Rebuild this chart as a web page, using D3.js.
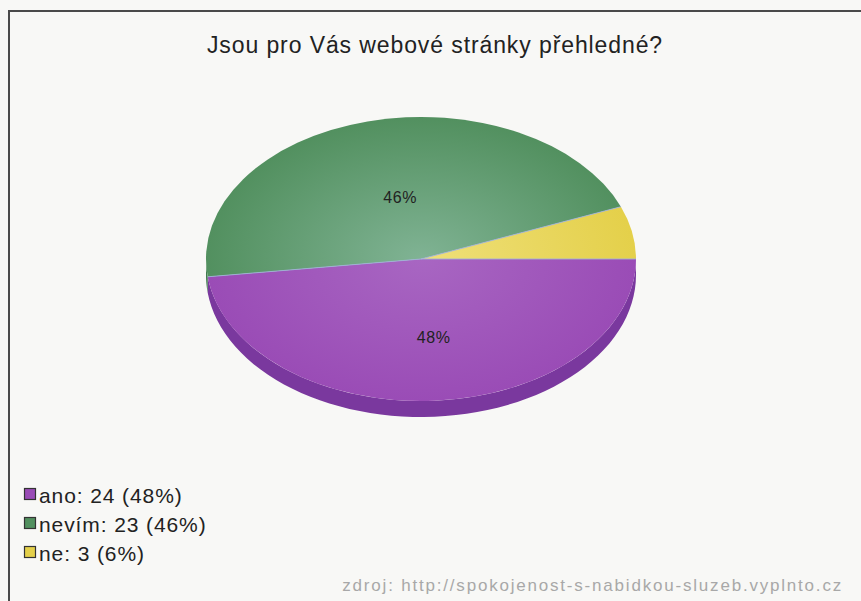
<!DOCTYPE html>
<html>
<head>
<meta charset="utf-8">
<script src="https://cdn.jsdelivr.net/npm/d3@7"></script>
<style>
  body { margin: 0; background: #f8f8f6; }
  svg { display: block; font-family: "Liberation Sans", Arial, sans-serif; }
</style>
</head>
<body>
<svg id="chart" width="861" height="601"></svg>
<script>
const categories = ["ano", "nevím", "ne"]
const counts = [24, 23, 3]
const topColors = ["#9a4cb6", "#52905f", "#e4d04a"]
const centerColors = ["#a866c2", "#80b394", "#efe07a"]
const sideColors = ["#7a389e", "#3f7a4d", "#c2ae30"]
const title = "Jsou pro Vás webové stránky přehledné?"
const source = "zdroj: http://spokojenost-s-nabidkou-sluzeb.vyplnto.cz"

const svg = d3.select("#chart")
const total = d3.sum(counts)
const pct = d3.format(".0%")

// frame
svg.append("rect").attr("width", 861).attr("height", 601).attr("fill", "#f8f8f6")
svg.append("path")
  .attr("d", "M9,601 V11 H861")
  .attr("fill", "none")
  .attr("stroke", "#4a4a4a")
  .attr("stroke-width", 2)

svg.append("text")
  .attr("x", 435).attr("y", 53)
  .attr("text-anchor", "middle")
  .attr("font-size", 23)
  .attr("letter-spacing", 0.9)
  .attr("fill", "#222")
  .text(title)

// pie geometry
const cx = 421, cy = 259, rx = 215, ry = 142, depth = 16
const data = categories.map((c, i) => ({ name: c, value: counts[i], i }))
const pie = d3.pie().value(d => d.value).sort(null)
  .startAngle(Math.PI / 2).endAngle(Math.PI / 2 + 2 * Math.PI)
const arcs = pie(data)

const ex = a => cx + rx * Math.sin(a)
const ey = a => cy - ry * Math.cos(a)

const defs = svg.append("defs")
data.forEach((d, i) => {
  const g = defs.append("radialGradient")
    .attr("id", `grad-${i}`)
    .attr("gradientUnits", "userSpaceOnUse")
    .attr("cx", 0).attr("cy", 0).attr("r", rx)
  g.append("stop").attr("offset", "0%").attr("stop-color", centerColors[i])
  g.append("stop").attr("offset", "100%").attr("stop-color", topColors[i])
})

// side walls (front half only)
const sideLine = d3.line()
const sides = svg.append("g")
arcs.forEach(a => {
  const a0 = Math.max(a.startAngle, Math.PI / 2)
  const a1 = Math.min(a.endAngle, 3 * Math.PI / 2)
  if (a0 >= a1) return
  const steps = d3.range(0, 61).map(k => a0 + (a1 - a0) * k / 60)
  const pts = steps.map(t => [ex(t), ey(t)])
    .concat(steps.slice().reverse().map(t => [ex(t), ey(t) + depth]))
  sides.append("path")
    .attr("d", sideLine(pts) + "Z")
    .attr("fill", sideColors[a.data.i])
})

// top faces
const arc = d3.arc().innerRadius(0).outerRadius(rx)
const faces = svg.append("g")
  .attr("transform", `translate(${cx},${cy}) scale(1,${ry / rx})`)
faces.selectAll("path")
  .data(arcs)
  .join("path")
  .attr("d", arc)
  .attr("fill", d => `url(#grad-${d.data.i})`)

// thin seams between slices
svg.append("g")
  .selectAll("line")
  .data(arcs)
  .join("line")
  .attr("x1", cx).attr("y1", cy)
  .attr("x2", d => ex(d.startAngle))
  .attr("y2", d => ey(d.startAngle))
  .attr("stroke", "#9fb0d8")
  .attr("stroke-width", 0.9)

// slice labels
const labelArc = d3.arc().innerRadius(rx * 0.5).outerRadius(rx * 0.5)
svg.append("g")
  .selectAll("text")
  .data(arcs.filter(d => d.value / total > 0.1))
  .join("text")
  .attr("x", d => cx + labelArc.centroid(d)[0] + 6)
  .attr("y", d => cy + labelArc.centroid(d)[1] * ry / rx + 13)
  .attr("text-anchor", "middle")
  .attr("font-size", 16)
  .attr("letter-spacing", 0.6)
  .attr("fill", "#222")
  .text(d => pct(d.value / total))

// legend
const legend = svg.append("g")
data.forEach((d, i) => {
  const y = 495 + i * 29
  legend.append("rect")
    .attr("x", 24.5).attr("y", y - 6.5)
    .attr("width", 11).attr("height", 11)
    .attr("fill", topColors[i])
    .attr("stroke", "#333").attr("stroke-width", 1.2)
  legend.append("text")
    .attr("x", 39).attr("y", y + 7.5)
    .attr("font-size", 21)
    .attr("letter-spacing", 0.9)
    .attr("fill", "#222")
    .text(`${d.name}: ${d.value} (${pct(d.value / total)})`)
})

svg.append("text")
  .attr("x", 843).attr("y", 591)
  .attr("text-anchor", "end")
  .attr("font-size", 17)
  .attr("letter-spacing", 1.8)
  .attr("fill", "#a8a8a8")
  .text(source)
</script>
</body>
</html>
